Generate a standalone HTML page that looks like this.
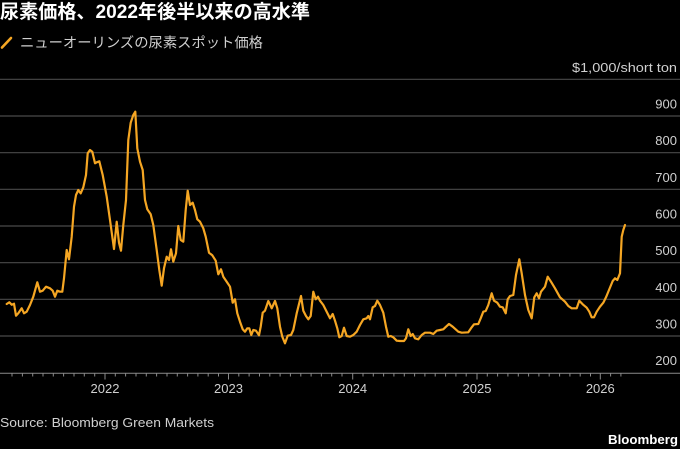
<!DOCTYPE html>
<html><head><meta charset="utf-8">
<style>
html,body{margin:0;padding:0;background:#000;}
svg{display:block;}
text{font-family:"Liberation Sans","Noto Sans CJK JP",sans-serif;}
</style></head>
<body>
<svg width="680" height="449" viewBox="0 0 680 449" xmlns="http://www.w3.org/2000/svg">
<rect width="680" height="449" fill="#000"/>
<text x="0" y="18" font-size="19" font-weight="bold" fill="#ffffff" textLength="310" lengthAdjust="spacingAndGlyphs">尿素価格、2022年後半以来の高水準</text>
<line x1="2" y1="47.5" x2="11" y2="38" stroke="#f5a623" stroke-width="2.6" stroke-linecap="round"/>
<text x="20" y="47.5" font-size="14" fill="#d0d0d0" textLength="243" lengthAdjust="spacingAndGlyphs">ニューオーリンズの尿素スポット価格</text>

<path stroke="#4a4a4a" stroke-width="1.2" fill="none" d="M0 79.3H680M0 116H680M0 152.7H680M0 189.3H680M0 226H680M0 262.7H680M0 299.3H680M0 336H680"/>
<line x1="0" y1="373.3" x2="680" y2="373.3" stroke="#8a8a8a" stroke-width="1"/>

<g font-size="13" fill="#d0d0d0" text-anchor="end">
<text x="677" y="72" textLength="105" lengthAdjust="spacingAndGlyphs">$1,000/short ton</text>
<text x="677" y="108.5">900</text>
<text x="677" y="145.2">800</text>
<text x="677" y="181.8">700</text>
<text x="677" y="218.5">600</text>
<text x="677" y="255.2">500</text>
<text x="677" y="291.8">400</text>
<text x="677" y="328.5">300</text>
<text x="677" y="365.2">200</text>
</g>

<path stroke="#8a8a8a" stroke-width="1" fill="none" d="M12 373.3v3.2M22.4 373.3v3.2M32.7 373.3v3.2M43 373.3v3.2M53.3 373.3v3.2M63.6 373.3v3.2M74 373.3v3.2M84.3 373.3v3.2M94.7 373.3v3.2M105 373.3v6.2M115.3 373.3v3.2M125.6 373.3v3.2M136 373.3v3.2M146.3 373.3v3.2M156.6 373.3v3.2M167 373.3v3.2M177.3 373.3v3.2M187.6 373.3v3.2M197.9 373.3v3.2M208.2 373.3v3.2M218.5 373.3v3.2M228.5 373.3v6.2M238.8 373.3v3.2M249.1 373.3v3.2M259.5 373.3v3.2M269.8 373.3v3.2M280.1 373.3v3.2M290.4 373.3v3.2M300.8 373.3v3.2M311.1 373.3v3.2M321.4 373.3v3.2M331.7 373.3v3.2M342 373.3v3.2M352.7 373.3v6.2M363 373.3v3.2M373.3 373.3v3.2M383.6 373.3v3.2M393.9 373.3v3.2M404.3 373.3v3.2M414.6 373.3v3.2M424.9 373.3v3.2M435.2 373.3v3.2M445.6 373.3v3.2M455.9 373.3v3.2M466.2 373.3v3.2M477 373.3v6.2M487.3 373.3v3.2M497.6 373.3v3.2M507.9 373.3v3.2M518.3 373.3v3.2M528.6 373.3v3.2M538.9 373.3v3.2M549.2 373.3v3.2M559.6 373.3v3.2M569.9 373.3v3.2M580.2 373.3v3.2M590.5 373.3v3.2M600.3 373.3v6.2M610.6 373.3v3.2M620.9 373.3v3.2"/>

<g font-size="13" fill="#d0d0d0" text-anchor="middle">
<text x="105" y="393">2022</text>
<text x="228.5" y="393">2023</text>
<text x="352.7" y="393">2024</text>
<text x="477" y="393">2025</text>
<text x="600.3" y="393">2026</text>
</g>

<polyline fill="none" stroke="#f5a623" stroke-width="2.2" stroke-linejoin="round" stroke-linecap="round" points="6.7,304 9.3,302.3 11.7,304.7 14,303.7 16,315.7 18.3,313.3 21.7,308.3 24,313.3 26.7,311.7 30,305 33.3,296.7 37.3,282.3 40,291.7 42.7,290.7 46,286.7 50,288.3 52.7,290.7 55,296.7 57.3,290.7 60,291.7 62.3,291.7 64,278.3 66.7,250 69,259.3 71.7,236.7 74,206.7 76,195 78.3,190 80.7,193.3 83.3,187.3 86,175 87.7,153.3 90,150 92.3,151.7 95,163.3 97.3,162 99.3,161.3 102.7,175 106.7,196.7 110,220 114,249 116.7,221.7 119,242.7 121,250.7 123.3,225 126,200 128.3,140 130.7,122.7 133.3,115 135.3,111.7 137.3,148.3 140,161.7 142.7,170 145,200 147.3,209.3 150.7,214.3 153.3,225 156.7,250 159.3,270 161.7,285.7 164,268.3 166.7,256.7 169,260 171,249.3 173.3,261.7 176,253.3 178.3,226 180.7,240 183.3,241.7 185.7,210 187.7,190.7 190,205 192.7,202.7 195,210 197.3,219.3 200,221.7 203.3,228.3 205.7,236.7 209,252.7 212.3,255.3 215.7,260.7 218.3,274.3 221,269.3 223.3,276.7 226.7,281.7 230,286.7 232.7,302.7 235,299.3 237.3,313.3 240,321.7 242.7,329.3 245,331.7 247.3,328.3 249.3,328.3 251.3,335 253.3,330 256,330.7 259,335.3 260.7,326.7 262.7,312.7 265,310.7 268.3,301 271.7,308.3 275,301 277.3,308.3 280,326.7 282.3,336.7 285,343.3 287.7,335.7 291,335 293.3,330 296.7,313.3 301,296 303.3,310.7 306,316 308.3,319.3 310.7,316 313.3,291.7 315.7,299.3 318,296.7 320,300.7 323.3,305 326.7,311.7 330,318.3 332.7,314 335,320.7 337.3,328.3 339.3,337.3 341.7,336 344,327.7 346.7,336 350,336.7 353.3,335 356.7,331.7 360,325 363.3,319.3 366.7,318.3 368.3,316 370,319.3 372.7,307.3 375,306 377.3,300.7 380,305 383.3,312.7 386,326.7 388.3,336.7 390.7,336 393.3,337.3 396.7,340.7 400,341 404,341 406,338.3 408.3,329.3 410.7,336 412.7,334 415,338.3 418.3,339.3 421.7,335 425,332.7 430,332.7 433.3,334 436.7,330.7 440,330 443.3,329.3 446,326.7 449,324 452.7,326.7 458.3,331.7 461.7,332.7 468.3,332.3 471.7,327.3 474,324.3 478.3,324 480.7,318.3 483.3,311.7 485.7,311 488.3,305 491.7,293.3 494,300.7 497.3,302.7 500,306.7 502.7,307.3 505.7,313.3 507.7,299.3 510,296 513.3,295 516,275 519.3,259.3 521.7,273.3 525,295 528.3,310 531.7,318.3 534.3,297.3 536.7,293.3 539,298.3 541,291.7 545,286.7 547.7,276.7 551,281.7 555,288.3 560,297.3 565,301.7 568.3,306 571.7,308.3 576.7,308.3 579.3,300.7 582.7,304.3 586.7,307.7 589.3,311.7 591.7,317.3 594,317.3 596.7,311.7 600,306.7 603.3,302.7 606,297.3 609,290 612.7,281 615,278.3 617.3,280 620,273.3 621.7,236.7 623.3,230 625,225"/>

<text x="0" y="427" font-size="13" fill="#d0d0d0" textLength="214" lengthAdjust="spacingAndGlyphs">Source: Bloomberg Green Markets</text>
<text x="678" y="444" font-size="13" font-weight="bold" fill="#ffffff" text-anchor="end" textLength="70" lengthAdjust="spacingAndGlyphs">Bloomberg</text>
</svg>
</body></html>
